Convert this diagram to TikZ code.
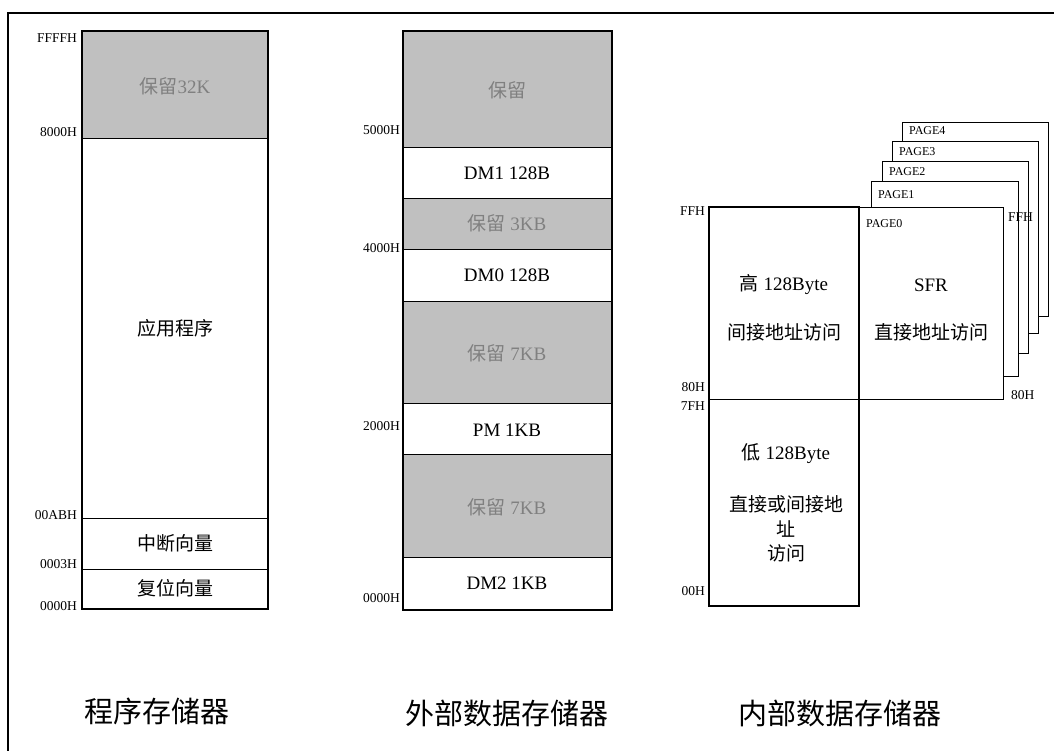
\documentclass[tikz,border=0pt]{standalone}
\usepackage{fontspec}
\setmainfont{Liberation Serif}
\newfontfamily\cjk{Noto Sans CJK SC}
\usetikzlibrary{positioning}
\definecolor{ResvGray}{HTML}{C0C0C0}
\definecolor{ResvText}{HTML}{808080}

\begin{document}
\begin{tikzpicture}[x=1pt,y=-1pt,
      every node/.style={inner sep=0pt,align=center},
      addr/.style={font=\fontsize{13.5}{14}\selectfont,anchor=east},
      addrr/.style={addr,anchor=west},
      cell/.style={font=\fontsize{19}{24.5}\selectfont},
      resv/.style={cell,text=ResvText},
      pagelbl/.style={font=\fontsize{12}{12}\selectfont,anchor=west},
      title/.style={font=\cjk\fontsize{29}{29}\selectfont},
      outline/.style={draw=black,line width=2.5pt},
      divider/.style={draw=black,line width=0.9pt},
      pagebox/.style={draw=black,fill=white,line width=1pt}]
      \useasboundingbox (0,0) rectangle (1054,750);
      \fill[white] (0,0) rectangle (1054,750);
      \draw[line width=1.2pt] (8,760) -- (8,13) -- (1060,13);

      % program memory
      \fill[white] (82,31) rectangle (268,609);
      \fill[ResvGray] (82,31) rectangle (268,138);
      \draw[divider] (82,138) -- (268,138);
      \draw[divider] (82,518) -- (268,518);
      \draw[divider] (82,569) -- (268,569);
      \draw[outline] (82,31) rectangle (268,609);
      \node[resv] (prgresv) at (175,86) {{\cjk 保留}32K};
      \node[cell] (prgapp) at (175,328) {\cjk 应用程序};
      \node[cell] (prgint) at (175,543) {\cjk 中断向量};
      \node[cell] (prgrst) at (175,588) {\cjk 复位向量};
      \node[addr] (a1) at (77,38) {FFFFH};
      \node[addr] (a2) at (77,132) {8000H};
      \node[addr] (a3) at (77,515) {00ABH};
      \node[addr] (a4) at (77,564) {0003H};
      \node[addr] (a5) at (77,606) {0000H};

      % external data memory
      \fill[white] (403,31) rectangle (612,610);
      \fill[ResvGray] (403,31) rectangle (612,147);
      \fill[ResvGray] (403,198) rectangle (612,249);
      \fill[ResvGray] (403,301) rectangle (612,403);
      \fill[ResvGray] (403,454) rectangle (612,557);
      \foreach \yy in {147,198,249,301,403,454,557}
        \draw[divider] (403,\yy) -- (612,\yy);
      \draw[outline] (403,31) rectangle (612,610);
      \node[resv] (xresv) at (507,90) {\cjk 保留};
      \node[cell] (xdm1) at (507,173) {DM1 128B};
      \node[resv] (xresv3) at (507,223) {{\cjk 保留} 3KB};
      \node[cell] (xdm0) at (507,275) {DM0 128B};
      \node[resv] (xresv7a) at (507,353) {{\cjk 保留} 7KB};
      \node[cell] (xpm) at (507,430) {PM 1KB};
      \node[resv] (xresv7b) at (507,507) {{\cjk 保留} 7KB};
      \node[cell] (xdm2) at (507,583) {DM2 1KB};
      \node[addr] (b1) at (400,130) {5000H};
      \node[addr] (b2) at (400,248) {4000H};
      \node[addr] (b3) at (400,426) {2000H};
      \node[addr] (b4) at (400,598) {0000H};

      % internal data memory, SFR pages
      \foreach \k/\xa/\ya/\xb/\yb/\ly in {4/902/122/1048/316/131,3/892/141/1038/333/152,
          2/882/161/1028/353/172,1/871/181/1018/376/195}{
        \draw[pagebox] (\xa,\ya) rectangle (\xb,\yb);
        \node[pagelbl] (page\k) at (\xa+7,\ly) {PAGE\k};
      }
      \draw[pagebox] (859,207) rectangle (1003,399);
      \node[pagelbl] (page0) at (866,224) {PAGE0};
      \fill[white] (709,207) rectangle (859,606);
      \draw[divider] (709,399) -- (1003,399);
      \draw[outline] (709,207) rectangle (859,606);
      \node[cell] (ihigh) at (784,285) {{\cjk 高} 128Byte};
      \node[cell] (ihighacc) at (784,332) {\cjk 间接地址访问};
      \node[cell] (isfr) at (931,285) {SFR};
      \node[cell] (isfracc) at (931,332) {\cjk 直接地址访问};
      \node[cell] (ilow) at (786,454) {{\cjk 低} 128Byte};
      \node[cell] (ilowacc) at (786,529) {\cjk 直接或间接地\\\cjk 址\\\cjk 访问};
      \node[addr] (c1) at (705,211) {FFH};
      \node[addr] (c2) at (705,387) {80H};
      \node[addr] (c3) at (705,406) {7FH};
      \node[addr] (c4) at (705,591) {00H};
      \node[addrr] (c5) at (1008,217) {FFH};
      \node[addrr] (c6) at (1011,395) {80H};

      % titles
      \node[title] (prgtitle) at (157,711) {程序存储器};
      \node[title] (xtitle) at (507,713) {外部数据存储器};
      \node[title] (ititle) at (840,713) {内部数据存储器};
    \end{tikzpicture}
\end{document}
